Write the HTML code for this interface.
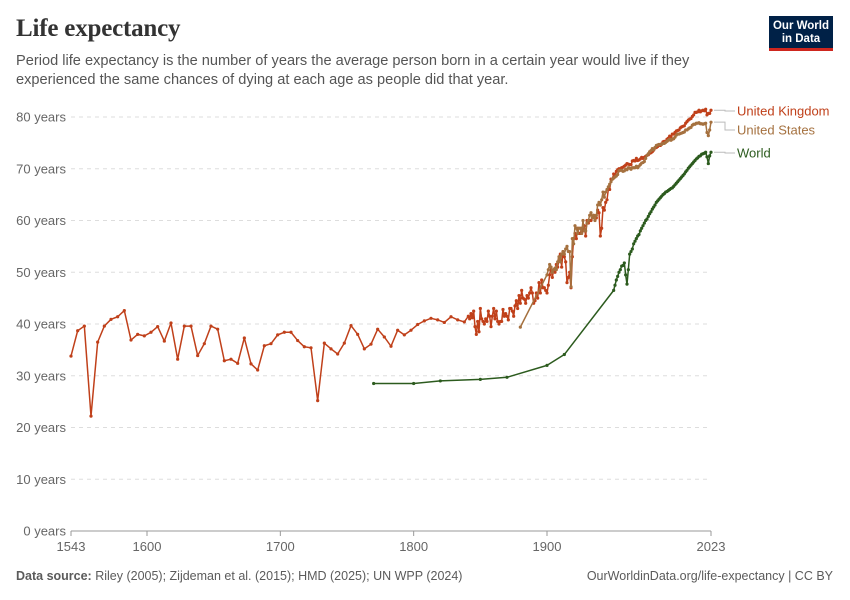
<!DOCTYPE html>
<html><head><meta charset="utf-8"><style>
body{margin:0;background:#fff;font-family:"Liberation Sans",sans-serif;}
#wrap{position:relative;width:850px;height:600px;overflow:hidden;}
h1{position:absolute;left:16px;top:15px;margin:0;font-family:"Liberation Serif",serif;font-size:25px;font-weight:bold;color:#333;letter-spacing:-0.2px;}
.sub{position:absolute;left:16px;top:52px;width:720px;font-size:14.6px;line-height:19px;color:#555;}
.logo{position:absolute;left:769px;top:16px;width:64px;height:35px;background:#002147;border-bottom:3px solid #ce261e;box-sizing:border-box;color:#fff;font-size:11.5px;font-weight:bold;text-align:center;line-height:12.5px;padding-top:4px;}
.foot{position:absolute;top:569px;font-size:12.5px;color:#5b5b5b;}
svg text{font-family:"Liberation Sans",sans-serif;}
</style></head><body>
<div id="wrap">
<h1>Life expectancy</h1>
<div class="sub">Period life expectancy is the number of years the average person born in a certain year would live if they experienced the same chances of dying at each age as people did that year.</div>
<div class="logo">Our World<br>in Data</div>
<svg id="chart" width="850" height="600" style="position:absolute;left:0;top:0"></svg>
<div class="foot" style="left:16px"><b>Data source:</b> Riley (2005); Zijdeman et al. (2015); HMD (2025); UN WPP (2024)</div>
<div class="foot" style="right:17px">OurWorldinData.org/life-expectancy | CC BY</div>
</div>
<script>
const yTicks=[0,10,20,30,40,50,60,70,80];
const xTicks=[1543,1600,1700,1800,1900,2023];
const ukEarlyYears=[];for(let y=1543;y<=1838;y+=5)ukEarlyYears.push(y);
const ukEarly=[33.8,38.7,39.6,22.2,36.5,39.6,40.9,41.4,42.6,36.9,38.0,37.7,38.4,39.5,36.7,40.2,33.2,39.6,39.6,33.9,36.2,39.6,39.0,32.9,33.2,32.4,37.3,32.3,31.1,35.8,36.2,37.9,38.4,38.4,36.8,35.6,35.4,25.2,36.3,35.2,34.2,36.3,39.7,38.0,35.2,36.1,39.0,37.5,35.7,38.8,37.9,38.8,39.9,40.6,41.1,40.8,40.3,41.4,40.8,40.4];
const ukAnnualStart=1841;
const ukAnnual=[41.5,41.0,42.0,41.2,42.5,39.5,38.0,40.5,38.5,43.0,
41.0,40.5,40.0,41.0,40.5,42.5,41.5,39.5,41.5,43.0,
41.0,42.5,40.5,40.0,40.5,40.5,42.8,41.5,42.0,41.5,
40.8,43.0,43.0,42.5,41.5,43.5,44.5,43.0,45.5,44.0,
46.5,45.0,44.8,44.0,45.5,45.0,46.0,47.0,46.0,44.0,
44.5,46.0,45.0,48.0,46.0,48.5,47.0,47.0,46.5,46.0,
47.5,49.5,51.0,49.0,50.5,50.0,51.5,51.0,52.5,53.5,
51.0,54.0,53.0,52.0,48.0,49.0,50.0,47.0,53.0,56.5,
57.5,56.5,58.5,57.5,57.5,58.5,58.0,59.0,57.0,60.0,
59.5,60.0,60.0,60.5,61.0,60.5,60.5,62.0,61.5,57.0,
58.5,62.5,62.0,63.5,64.0,66.0,66.0,68.0,68.0,69.0,
68.8,69.5,69.8,70.0,70.0,70.2,70.3,70.5,70.7,71.0,
70.9,70.8,70.8,71.5,71.6,71.5,72.0,71.6,71.7,71.9,
72.2,72.0,72.2,72.4,72.6,72.7,73.0,73.1,73.3,73.6,
74.0,74.1,74.3,74.7,74.5,74.8,75.2,75.3,75.3,75.7,
75.9,76.3,76.2,76.7,76.7,77.0,77.3,77.4,77.5,77.9,
78.1,78.2,78.3,78.8,79.1,79.4,79.6,79.7,80.1,80.4,
80.9,80.9,81.0,81.3,81.0,81.2,81.3,81.2,81.5,80.4,
80.7,80.7,81.3];
const usFirstYear=1880, usFirst=39.4, usAnnualStart=1900;
const usAnnual=[49.5,50.5,51.5,51.0,50.0,50.5,50.8,50.5,52.0,53.0,52.0,
53.5,54.0,53.5,54.5,55.0,54.0,54.0,47.2,56.5,55.5,
59.0,58.5,57.5,58.5,58.5,57.5,60.0,58.0,58.0,59.5,
60.0,61.0,61.5,60.5,61.0,60.0,61.0,63.0,63.5,63.0,
64.0,65.5,64.5,65.5,66.0,66.5,67.0,67.5,68.0,68.2,
68.4,68.6,68.9,69.6,69.7,69.7,69.5,69.6,69.9,69.8,
70.2,70.1,69.9,70.2,70.2,70.2,70.5,70.2,70.5,70.8,
71.1,71.2,71.4,72.0,72.6,72.9,73.3,73.5,73.9,73.7,
74.1,74.5,74.6,74.7,74.7,74.7,74.9,74.9,75.1,75.3,
75.5,75.7,75.5,75.7,75.8,76.1,76.5,76.7,76.7,76.8,
76.9,77.0,77.1,77.5,77.5,77.7,77.9,78.0,78.4,78.6,
78.6,78.8,78.8,78.9,78.7,78.7,78.6,78.7,78.8,77.0,
76.4,77.5,79.0];
const worldEarlyYears=[1770,1800,1820,1850,1870,1900,1913];
const worldEarly=[28.5,28.5,29.0,29.3,29.7,32.0,34.1];
const worldAnnualStart=1950;
const worldAnnual=[46.5,47.5,48.5,49.2,50.0,50.5,51.2,51.3,51.8,49.5,47.7,50.5,53.5,54.0,54.5,55.5,56.0,56.5,57.0,57.3,58.0,58.5,59.0,59.5,60.0,60.3,60.8,61.3,61.7,62.2,62.6,63.0,63.5,63.8,64.1,64.4,64.7,65.0,65.2,65.5,65.6,65.8,66.0,66.2,66.3,66.6,66.9,67.2,67.5,67.8,68.1,68.4,68.7,69.0,69.4,69.7,70.1,70.4,70.7,71.0,71.3,71.6,71.9,72.1,72.4,72.5,72.8,72.9,73.0,73.2,72.3,71.0,72.5,73.2];

const X0=71,X1=711,Y0=531,YPU=5.175;
const xs=y=>X0+(y-1543)*(X1-X0)/(2023-1543);
const ys=v=>Y0-v*YPU;
const NS='http://www.w3.org/2000/svg';
const svg=document.getElementById('chart');
function mk(t,a){const e=document.createElementNS(NS,t);for(const k in a)e.setAttribute(k,a[k]);svg.appendChild(e);return e;}

yTicks.forEach(v=>{
  const l=mk('line',{x1:X0,x2:X1,y1:ys(v),y2:ys(v),stroke:v===0?'#999':'#ddd','stroke-dasharray':v===0?'':'4,4','stroke-width':1});
  
  
  const t=mk('text',{x:66,y:ys(v)+4.5,'text-anchor':'end','font-size':13,fill:'#666'});
  t.textContent=v+' years';
  
  
});
xTicks.forEach(yr=>{
  const l=mk('line',{x1:xs(yr),x2:xs(yr),y1:Y0,y2:Y0+5,stroke:'#999'});
  
  
  const t=mk('text',{x:xs(yr),y:Y0+20,'text-anchor':'middle','font-size':13,fill:'#666'});
  t.textContent=yr;
  
  
});

function series(years,vals,color,name){
  const d=years.map((y,i)=>(i?'L':'M')+xs(y).toFixed(2)+' '+ys(vals[i]).toFixed(2)).join(' ');
  const p=mk('path',{d:d,fill:'none',stroke:color,'stroke-width':1.5,'stroke-linejoin':'round'});
  
  
  years.forEach((y,i)=>{
    const c=mk('circle',{cx:xs(y),cy:ys(vals[i]),r:1.6,fill:color});
    
    
  });
}
const ukYears=ukEarlyYears.concat(ukAnnual.map((_,i)=>ukAnnualStart+i));
const ukVals=ukEarly.concat(ukAnnual);
const usYears=[usFirstYear].concat(usAnnual.map((_,i)=>usAnnualStart+i));
const usVals=[usFirst].concat(usAnnual);
const wYears=worldEarlyYears.concat(worldAnnual.map((_,i)=>worldAnnualStart+i));
const wVals=worldEarly.concat(worldAnnual);
series(wYears,wVals,'#2c5b1e','world');
series(ukYears,ukVals,'#c0401a','united-kingdom');
series(usYears,usVals,'#a5713f','united-states');

const labels=[['United Kingdom','#c0401a',ukVals[ukVals.length-1],111,'legend-united-kingdom'],['United States','#a5713f',usVals[usVals.length-1],130,'legend-united-states'],['World','#2c5b1e',wVals[wVals.length-1],153,'legend-world']];
labels.forEach(([txt,col,v,ly,nm])=>{
  const y0=ys(v);
  const p=mk('path',{d:`M${X1+3} ${y0} H${X1+14} V${ly} H${X1+24}`,fill:'none',stroke:'#bbb','stroke-width':1});
  
  
  const t=mk('text',{x:737,y:ly+4.5,'font-size':13,fill:col});
  t.textContent=txt;
  
  
});
</script>
</body></html>
